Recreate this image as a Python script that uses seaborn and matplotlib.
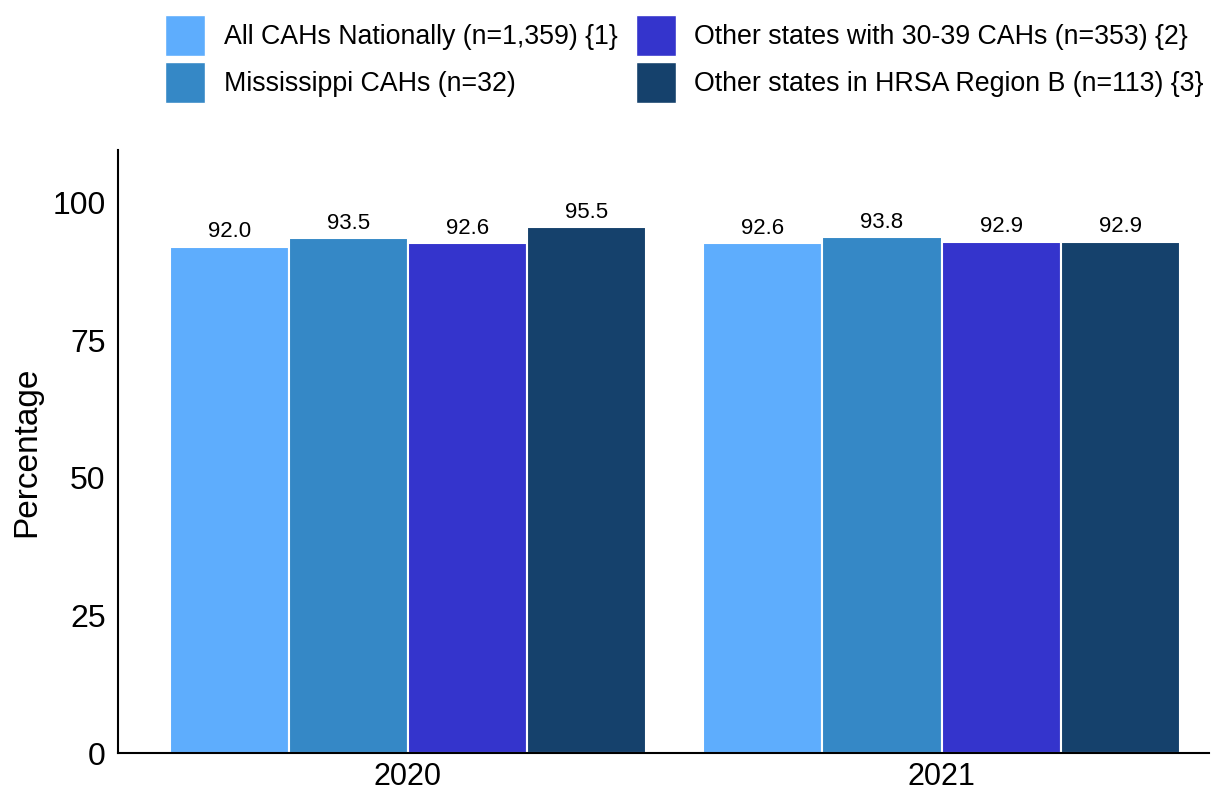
import matplotlib
matplotlib.use("Agg")
import matplotlib.pyplot as plt
import seaborn as sns
import pandas as pd

years = ["2020", "2021"]
groups = [
    "All CAHs Nationally (n=1,359) {1}",
    "Mississippi CAHs (n=32)",
    "Other states with 30-39 CAHs (n=353) {2}",
    "Other states in HRSA Region B (n=113) {3}",
]
values_2020 = [92.0, 93.5, 92.6, 95.5]
values_2021 = [92.6, 93.8, 92.9, 92.9]
colors = ["#5eadfd", "#3588c6", "#3434cc", "#15416c"]

rows = []
for g, v in zip(groups, values_2020):
    rows.append({"Year": "2020", "Group": g, "Value": v})
for g, v in zip(groups, values_2021):
    rows.append({"Year": "2021", "Group": g, "Value": v})
df = pd.DataFrame(rows)

sns.set_theme(style="white")
plt.rcParams["font.family"] = ["Liberation Sans", "DejaVu Sans"]
plt.rcParams["text.color"] = "black"

fig = plt.figure(figsize=(12.18, 7.92), dpi=100)
ax = fig.add_axes([0.097, 0.049, 0.896, 0.762])

sns.barplot(data=df, x="Year", y="Value", hue="Group", hue_order=groups,
            order=years, palette=colors, width=0.893, ax=ax,
            edgecolor="white", linewidth=1.5, saturation=1, errorbar=None)

for c in ax.containers:
    ax.bar_label(c, fmt="%.1f", padding=3, fontsize=16, color="black")

ax.set_ylim(0, 109.6)
ax.set_xlim(-0.543, 1.502)
ax.set_yticks([0, 25, 50, 75, 100])
ax.set_xlabel("")
ax.set_ylabel("Percentage", fontsize=24, color="black", labelpad=7)
ax.tick_params(axis="y", length=0, labelsize=23, colors="black", pad=9)
ax.tick_params(axis="x", length=0, labelsize=22, colors="black", pad=6)
for s in ["top", "right"]:
    ax.spines[s].set_visible(False)
for s in ["left", "bottom"]:
    ax.spines[s].set_color("black")
    ax.spines[s].set_linewidth(1.5)

ax.get_legend().remove()
handles = [plt.Rectangle((0, 0), 1, 1, facecolor=c, edgecolor="white") for c in colors]
fig.legend(handles, groups, loc="upper center", bbox_to_anchor=(0.562, 0.998),
           ncol=2, frameon=False, fontsize=19.3, labelcolor="black",
           handlelength=1.5, handleheight=2.0,
           handletextpad=0.68, columnspacing=0.7, labelspacing=0.2, borderpad=0)

fig.savefig("out.png", dpi=100)
